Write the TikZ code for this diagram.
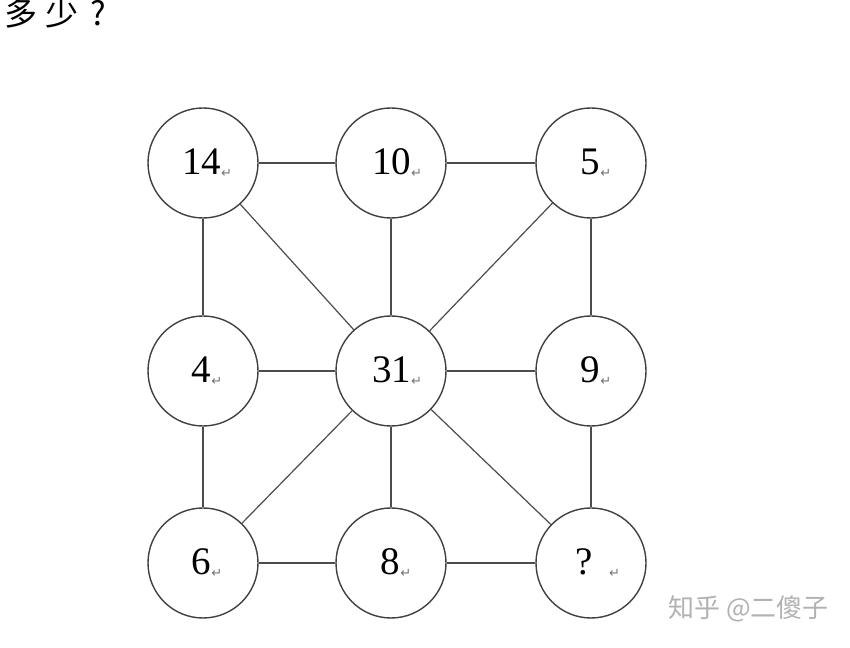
\documentclass[tikz,border=0pt]{standalone}
\usepackage{fontspec}
\setmainfont{Liberation Serif}
\newfontfamily\cjk{Noto Sans CJK SC}
\newfontfamily\symfont{DejaVu Sans}
\newcommand{\retmark}{\raisebox{-3pt}{\symfont\fontsize{13}{13}\selectfont\color{black!55}↵}}
\begin{document}
\begin{tikzpicture}[x=1pt,y=1pt,
  circ/.style={circle,draw=black!75,line width=1.4pt,minimum size=110pt,inner sep=0pt},
  num/.style={inner sep=0pt,font=\fontsize{39}{39}\selectfont},
  edge/.style={draw=black!70,line width=1.2pt}]
\useasboundingbox (0,0) rectangle (850,647);
\fill[white] (0,0) rectangle (850,647);
\node[anchor=west,font=\cjk\fontsize{33}{33}\selectfont,inner sep=0pt] (title) at (4,634) {多\hspace{8pt}少\hspace{12pt}?};
\node[circ] (a) at (203,484) {};
\node[circ] (b) at (391,484) {};
\node[circ] (c) at (591,484) {};
\node[circ] (d) at (203,276) {};
\node[circ] (e) at (391,276) {};
\node[circ] (f) at (591,276) {};
\node[circ] (g) at (203,84) {};
\node[circ] (h) at (391,84) {};
\node[circ] (i) at (591,84) {};
\node[num] (ta) at (207,484) {14\retmark};
\node[num] (tb) at (397,484) {10\retmark};
\node[num] (tc) at (596,484) {5\retmark};
\node[num] (td) at (207,276) {4\retmark};
\node[num] (te) at (397,276) {31\retmark};
\node[num] (tf) at (596,276) {9\retmark};
\node[num] (tg) at (207,84) {6\retmark};
\node[num] (th) at (396,84) {8\retmark};
\node[num] (ti) at (598,84) {?\hspace{16pt}\retmark};
\draw[edge] (a) -- (b);
\draw[edge] (b) -- (c);
\draw[edge] (d) -- (e);
\draw[edge] (e) -- (f);
\draw[edge] (g) -- (h);
\draw[edge] (h) -- (i);
\draw[edge] (a) -- (d);
\draw[edge] (d) -- (g);
\draw[edge] (b) -- (e);
\draw[edge] (e) -- (h);
\draw[edge] (c) -- (f);
\draw[edge] (f) -- (i);
\draw[edge] (a) -- (e);
\draw[edge] (c) -- (e);
\draw[edge] (e) -- (g);
\draw[edge] (e) -- (i);
\node[anchor=west,font=\cjk\fontsize{26}{26}\selectfont,text=black!30,inner sep=0pt] (wm) at (668,38) {知乎 @二傻子};
\end{tikzpicture}
\end{document}
